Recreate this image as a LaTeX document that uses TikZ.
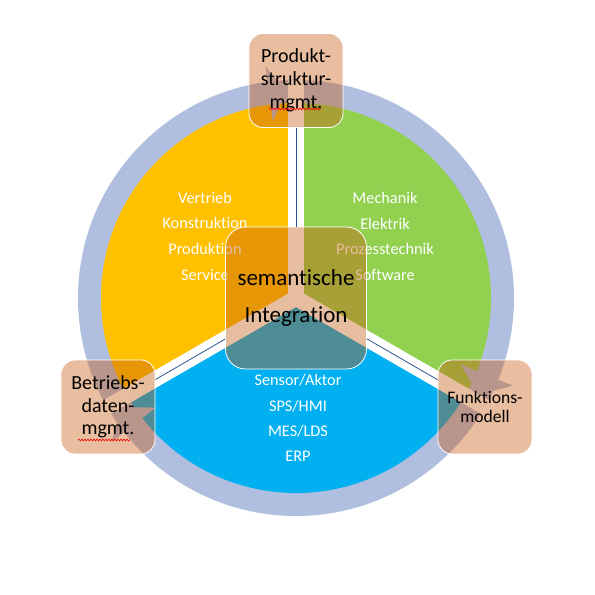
\documentclass[tikz,border=0pt]{standalone}
\usepackage{fontspec}
\setmainfont{Carlito}[Ligatures=NoCommon]
\usetikzlibrary{decorations.pathmorphing}

\definecolor{ringLavender}{RGB}{176,190,223}
\definecolor{secYellow}{RGB}{255,192,0}
\definecolor{secGreen}{RGB}{146,208,80}
\definecolor{secBlue}{RGB}{0,176,240}
\definecolor{boxBrown}{RGB}{197,90,17}
\definecolor{lineBlue}{RGB}{47,85,151}

\begin{document}
\begin{tikzpicture}
[x=1pt,y=1pt,
  boxDecorate/.style={draw=white,line width=0.8pt,fill=boxBrown,fill opacity=0.4,
    text opacity=1,rounded corners=14pt,minimum width=94pt,minimum height=94pt,
    align=center,inner sep=0pt},
  centerDecorate/.style={boxDecorate,minimum width=141pt,minimum height=142pt,
    rounded corners=20pt},
  lineDecorate/.style={draw=lineBlue,line width=0.8pt},
  gapDecorate/.style={draw=white,line width=15.6pt},
  spellDecorate/.style={draw=red,line width=0.6pt,decorate,
    decoration={snake,amplitude=0.9pt,segment length=3pt}},
  sectorText/.style={text=white,font=\fontsize{16.3}{26}\selectfont}]
\useasboundingbox (-296,-297) rectangle (299,298);
%% ring and sectors
\fill[ringLavender,even odd rule] (0,0) circle (218) (0,0) circle (194);
\foreach \col/\from/\to in {secYellow/90/210, secGreen/-30/90, secBlue/210/330}
{
  \fill[\col] (0,0) -- (\from:195) arc (\from:\to:195) -- cycle;
}
\foreach \ang in {90,210,330}
{
  \draw[gapDecorate] (0,0) -- (\ang:224);
}
%% arrow heads of the ring
\foreach \back/\tip in {97.5/93, -22/-28, 218/212}
{
  \fill[ringLavender] (\back:178) -- (\back:234) -- (\tip:206) -- cycle;
}
%% sector texts
\foreach \name/\x/\y/\txt in {
  vertrieb/-91/100/Vertrieb, konstruktion/-91/75/Konstruktion,
  produktion/-91/49/Produktion, service/-91/23/Service,
  mechanik/89/100/Mechanik, elektrik/89/74/Elektrik,
  prozess/89/49/Prozesstechnik, software/89/23/Software,
  sensor/2/-82/{Sensor/Aktor}, sps/2/-108/{SPS/HMI},
  mes/2/-133/{MES/LDS}, erp/2/-158/ERP}
{
  \node[sectorText] (\name) at (\x,\y) {\txt};
}
%% nodes
\node[centerDecorate,font=\fontsize{23}{37}\selectfont] (integration) at (0,0)
  {semantische\\Integration};
\node[boxDecorate,font=\fontsize{20}{23}\selectfont] (produkt) at (0,217.5)
  {Produkt-\\struktur-\\mgmt.};
\node[boxDecorate,font=\fontsize{20}{22.5}\selectfont] (betrieb) at (-188,-109)
  {Betriebs-\\daten-\\mgmt.};
\node[boxDecorate,font=\fontsize{17.6}{19.5}\selectfont] (funktion) at (189,-109)
  {Funktions-\\modell};
%% edges
\path
\foreach \endnode in {produkt, betrieb, funktion}
{
  (integration) edge[lineDecorate] (\endnode)
};
%% spell check marks
\draw[spellDecorate] (-27,189) -- (25,189);
\draw[spellDecorate] (-218,-142) -- (-166,-142);
\end{tikzpicture}
\end{document}
